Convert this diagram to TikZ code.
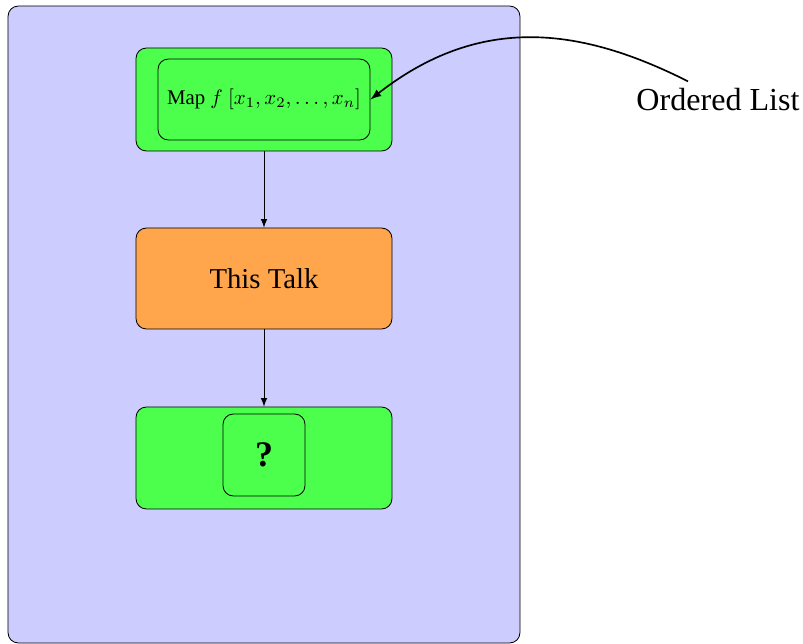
\documentclass[tikz,border=0pt]{standalone}
\usepackage{fontspec}
\setmainfont{Liberation Serif}
\begin{document}
\begin{tikzpicture}[>=latex, x=0.48pt, y=-0.48pt,
  box/.style={draw, rounded corners=5pt, fill=green!70, minimum width=122.88pt},
  innerbox/.style={draw, rounded corners=5pt, fill=green!70}]
\useasboundingbox (0,0) rectangle (803,644);
% background frame
\node (frame) at (264,324.5) [draw, rounded corners=5pt, fill=blue!20, minimum width=245.76pt, minimum height=305.76pt] {};
% first stage
\node (top) at (264,99.5) [box, minimum height=49.44pt] {};
\node (map) at (264,99.5) [innerbox, minimum width=101.76pt, minimum height=38.88pt] {Map $f$ $[x_1,x_2,\ldots,x_n]$};
% middle stage
\node (talk) at (264,278.5) [box, fill=orange!70, minimum height=48.48pt] {\fontsize{13.8}{16}\selectfont This Talk};
% last stage
\node (bottom) at (264,458) [box, minimum height=48.96pt] {};
\node (ask) at (264,455) [innerbox, minimum width=39.36pt, minimum height=39.36pt] {\LARGE\bfseries ?};
\draw[->] (top) -- (talk);
\draw[->] (talk) -- (bottom);
% the list
\node (lst) at (718,100) {\fontsize{15.4}{18}\selectfont Ordered List};
\draw[->, thick] ([xshift=-14.4pt]lst.north) .. controls +(-107,-54) and +(110,-86) .. (map.east);
\end{tikzpicture}
\end{document}
